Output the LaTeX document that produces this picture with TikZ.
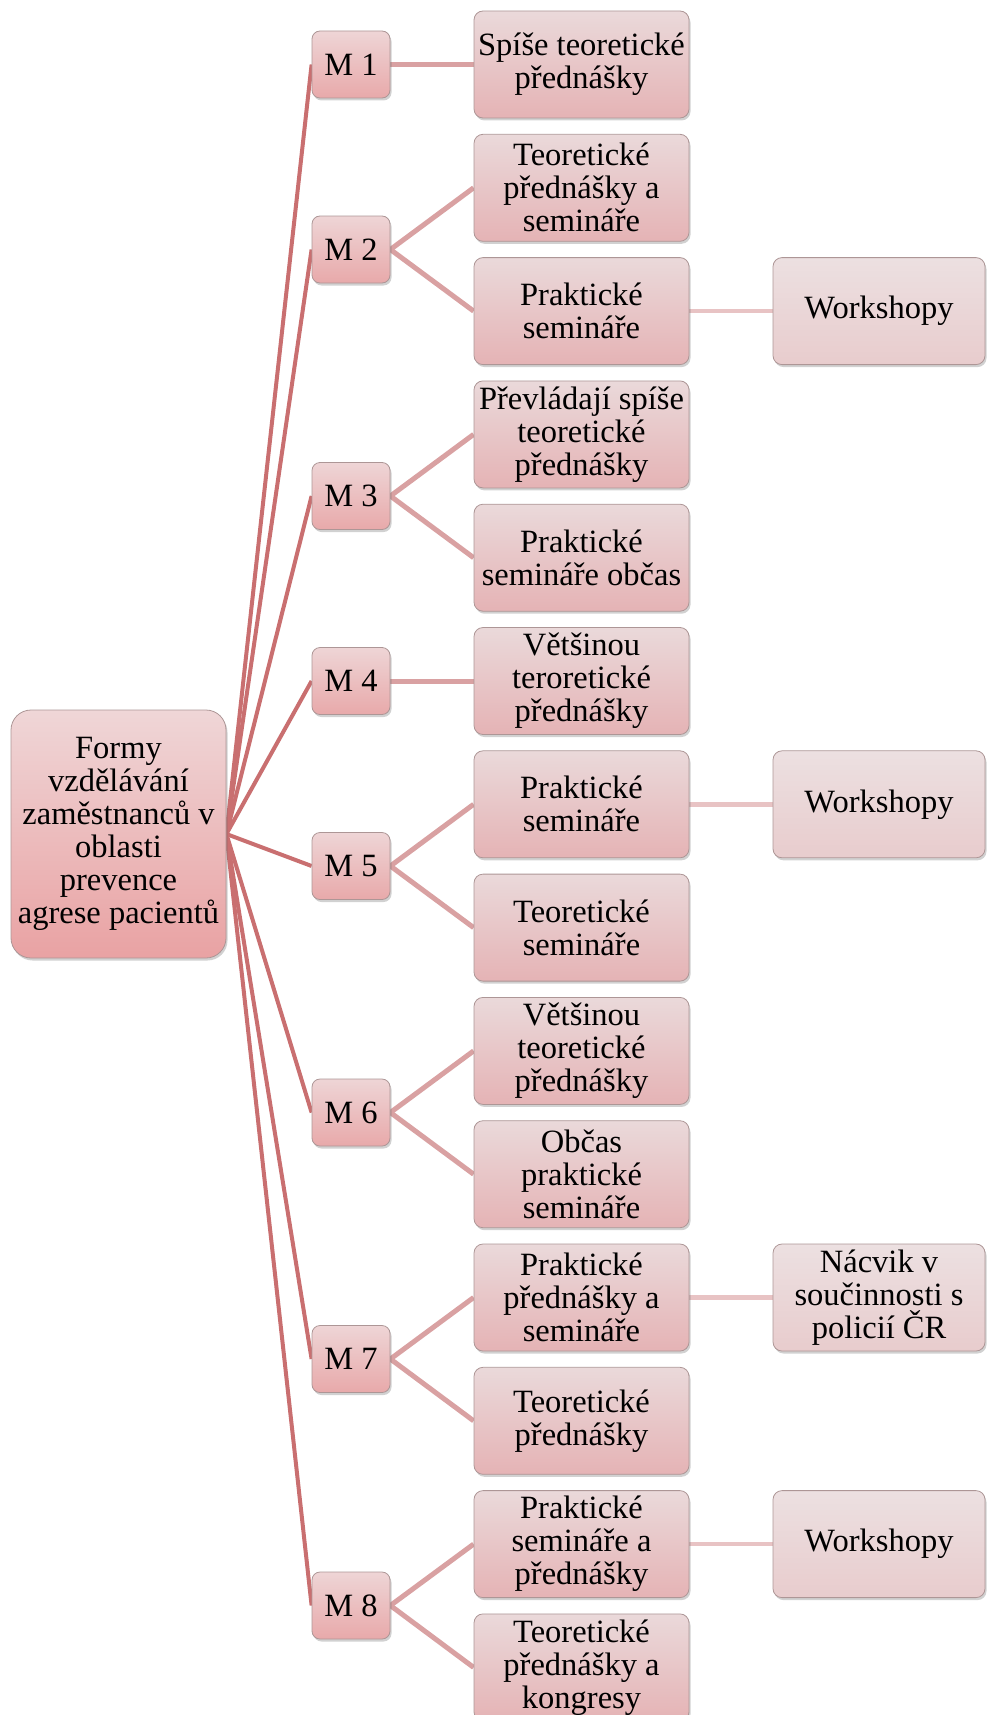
\documentclass[tikz,border=0pt]{standalone}
\usepackage{fontspec}
\setmainfont{Liberation Serif}
\usetikzlibrary{shadows,backgrounds}

\definecolor{rootTop}{HTML}{EFD6D7}
\definecolor{rootBot}{HTML}{E9A2A3}
\definecolor{mTop}{HTML}{EED5D6}
\definecolor{mBot}{HTML}{E8A9AA}
\definecolor{formTop}{HTML}{EAD9DA}
\definecolor{formBot}{HTML}{E5B3B5}
\definecolor{extraTop}{HTML}{ECE0E1}
\definecolor{extraBot}{HTML}{E8CCCD}
\definecolor{lineRoot}{HTML}{C96F70}
\definecolor{lineM}{HTML}{D9A1A2}
\definecolor{lineX}{HTML}{E8C3C4}
\definecolor{boxline}{HTML}{AD9696}

\tikzset{
  box/.style={rectangle, rounded corners=9pt, draw=boxline, line width=0.8pt,
    align=center, inner sep=0pt, font=\fontsize{32.5}{33}\selectfont,
    drop shadow={shadow xshift=1.5pt, shadow yshift=-2.5pt, opacity=0.3, fill=black!60}},
  rootbox/.style={box, rounded corners=20pt, minimum width=215pt, minimum height=248pt,
    top color=rootTop, bottom color=rootBot},
  mbox/.style={box, rounded corners=8pt, minimum width=78pt, minimum height=67pt,
    top color=mTop, bottom color=mBot},
  formbox/.style={box, minimum width=215pt, minimum height=107pt,
    top color=formTop, bottom color=formBot},
  extrabox/.style={box, minimum width=212pt, minimum height=107pt,
    top color=extraTop, bottom color=extraBot},
  rootlink/.style={draw=lineRoot, line width=4pt},
  mlink/.style={draw=lineM, line width=5pt},
  xlink/.style={draw=lineX, line width=4.5pt}
}

\begin{document}
\begin{tikzpicture}[x=1pt, y=-1pt]
\useasboundingbox (0,0) rectangle (986,1715);

% root
\node[rootbox] (root) at (118.5,834) {Formy\\vzdělávání\\zaměstnanců v\\oblasti\\prevence\\agrese pacientů};

% groups
\node[mbox] (m1) at (351,64.5)   {M 1};
\node[mbox] (m2) at (351,249.5)  {M 2};
\node[mbox] (m3) at (351,496)    {M 3};
\node[mbox] (m4) at (351,681)    {M 4};
\node[mbox] (m5) at (351,866)    {M 5};
\node[mbox] (m6) at (351,1112.5) {M 6};
\node[mbox] (m7) at (351,1359)   {M 7};
\node[mbox] (m8) at (351,1605.5) {M 8};

% forms
\node[formbox] (f1)  at (581.5,64.5)   {Spíše teoretické\\přednášky};
\node[formbox] (f2)  at (581.5,187.8)  {Teoretické\\přednášky a\\semináře};
\node[formbox] (f3)  at (581.5,311.1)  {Praktické\\semináře};
\node[formbox] (f4)  at (581.5,434.4)  {Převládají spíše\\teoretické\\přednášky};
\node[formbox] (f5)  at (581.5,557.7)  {Praktické\\semináře občas};
\node[formbox] (f6)  at (581.5,681)    {Většinou\\teroretické\\přednášky};
\node[formbox] (f7)  at (581.5,804.3)  {Praktické\\semináře};
\node[formbox] (f8)  at (581.5,927.6)  {Teoretické\\semináře};
\node[formbox] (f9)  at (581.5,1050.9) {Většinou\\teoretické\\přednášky};
\node[formbox] (f10) at (581.5,1174.2) {Občas\\praktické\\semináře};
\node[formbox] (f11) at (581.5,1297.5) {Praktické\\přednášky a\\semináře};
\node[formbox] (f12) at (581.5,1420.8) {Teoretické\\přednášky};
\node[formbox] (f13) at (581.5,1544.1) {Praktické\\semináře a\\přednášky};
\node[formbox] (f14) at (581.5,1667.4) {Teoretické\\přednášky a\\kongresy};

% details
\node[extrabox] (x1) at (879,311.1)  {Workshopy};
\node[extrabox] (x2) at (879,804.3)  {Workshopy};
\node[extrabox] (x3) at (879,1297.5) {Nácvik v\\součinnosti s\\policií ČR};
\node[extrabox] (x4) at (879,1544.1) {Workshopy};

\begin{scope}[on background layer]
  \foreach \m in {m1,m2,m3,m4,m5,m6,m7,m8}
    \draw[rootlink] (root.east) -- (\m.west);
  \draw[mlink] (m1.east) -- (f1.west);
  \draw[mlink] (m2.east) -- (f2.west);
  \draw[mlink] (m2.east) -- (f3.west);
  \draw[mlink] (m3.east) -- (f4.west);
  \draw[mlink] (m3.east) -- (f5.west);
  \draw[mlink] (m4.east) -- (f6.west);
  \draw[mlink] (m5.east) -- (f7.west);
  \draw[mlink] (m5.east) -- (f8.west);
  \draw[mlink] (m6.east) -- (f9.west);
  \draw[mlink] (m6.east) -- (f10.west);
  \draw[mlink] (m7.east) -- (f11.west);
  \draw[mlink] (m7.east) -- (f12.west);
  \draw[mlink] (m8.east) -- (f13.west);
  \draw[mlink] (m8.east) -- (f14.west);
  \draw[xlink] (f3.east) -- (x1.west);
  \draw[xlink] (f7.east) -- (x2.west);
  \draw[xlink] (f11.east) -- (x3.west);
  \draw[xlink] (f13.east) -- (x4.west);
\end{scope}
\end{tikzpicture}
\end{document}
